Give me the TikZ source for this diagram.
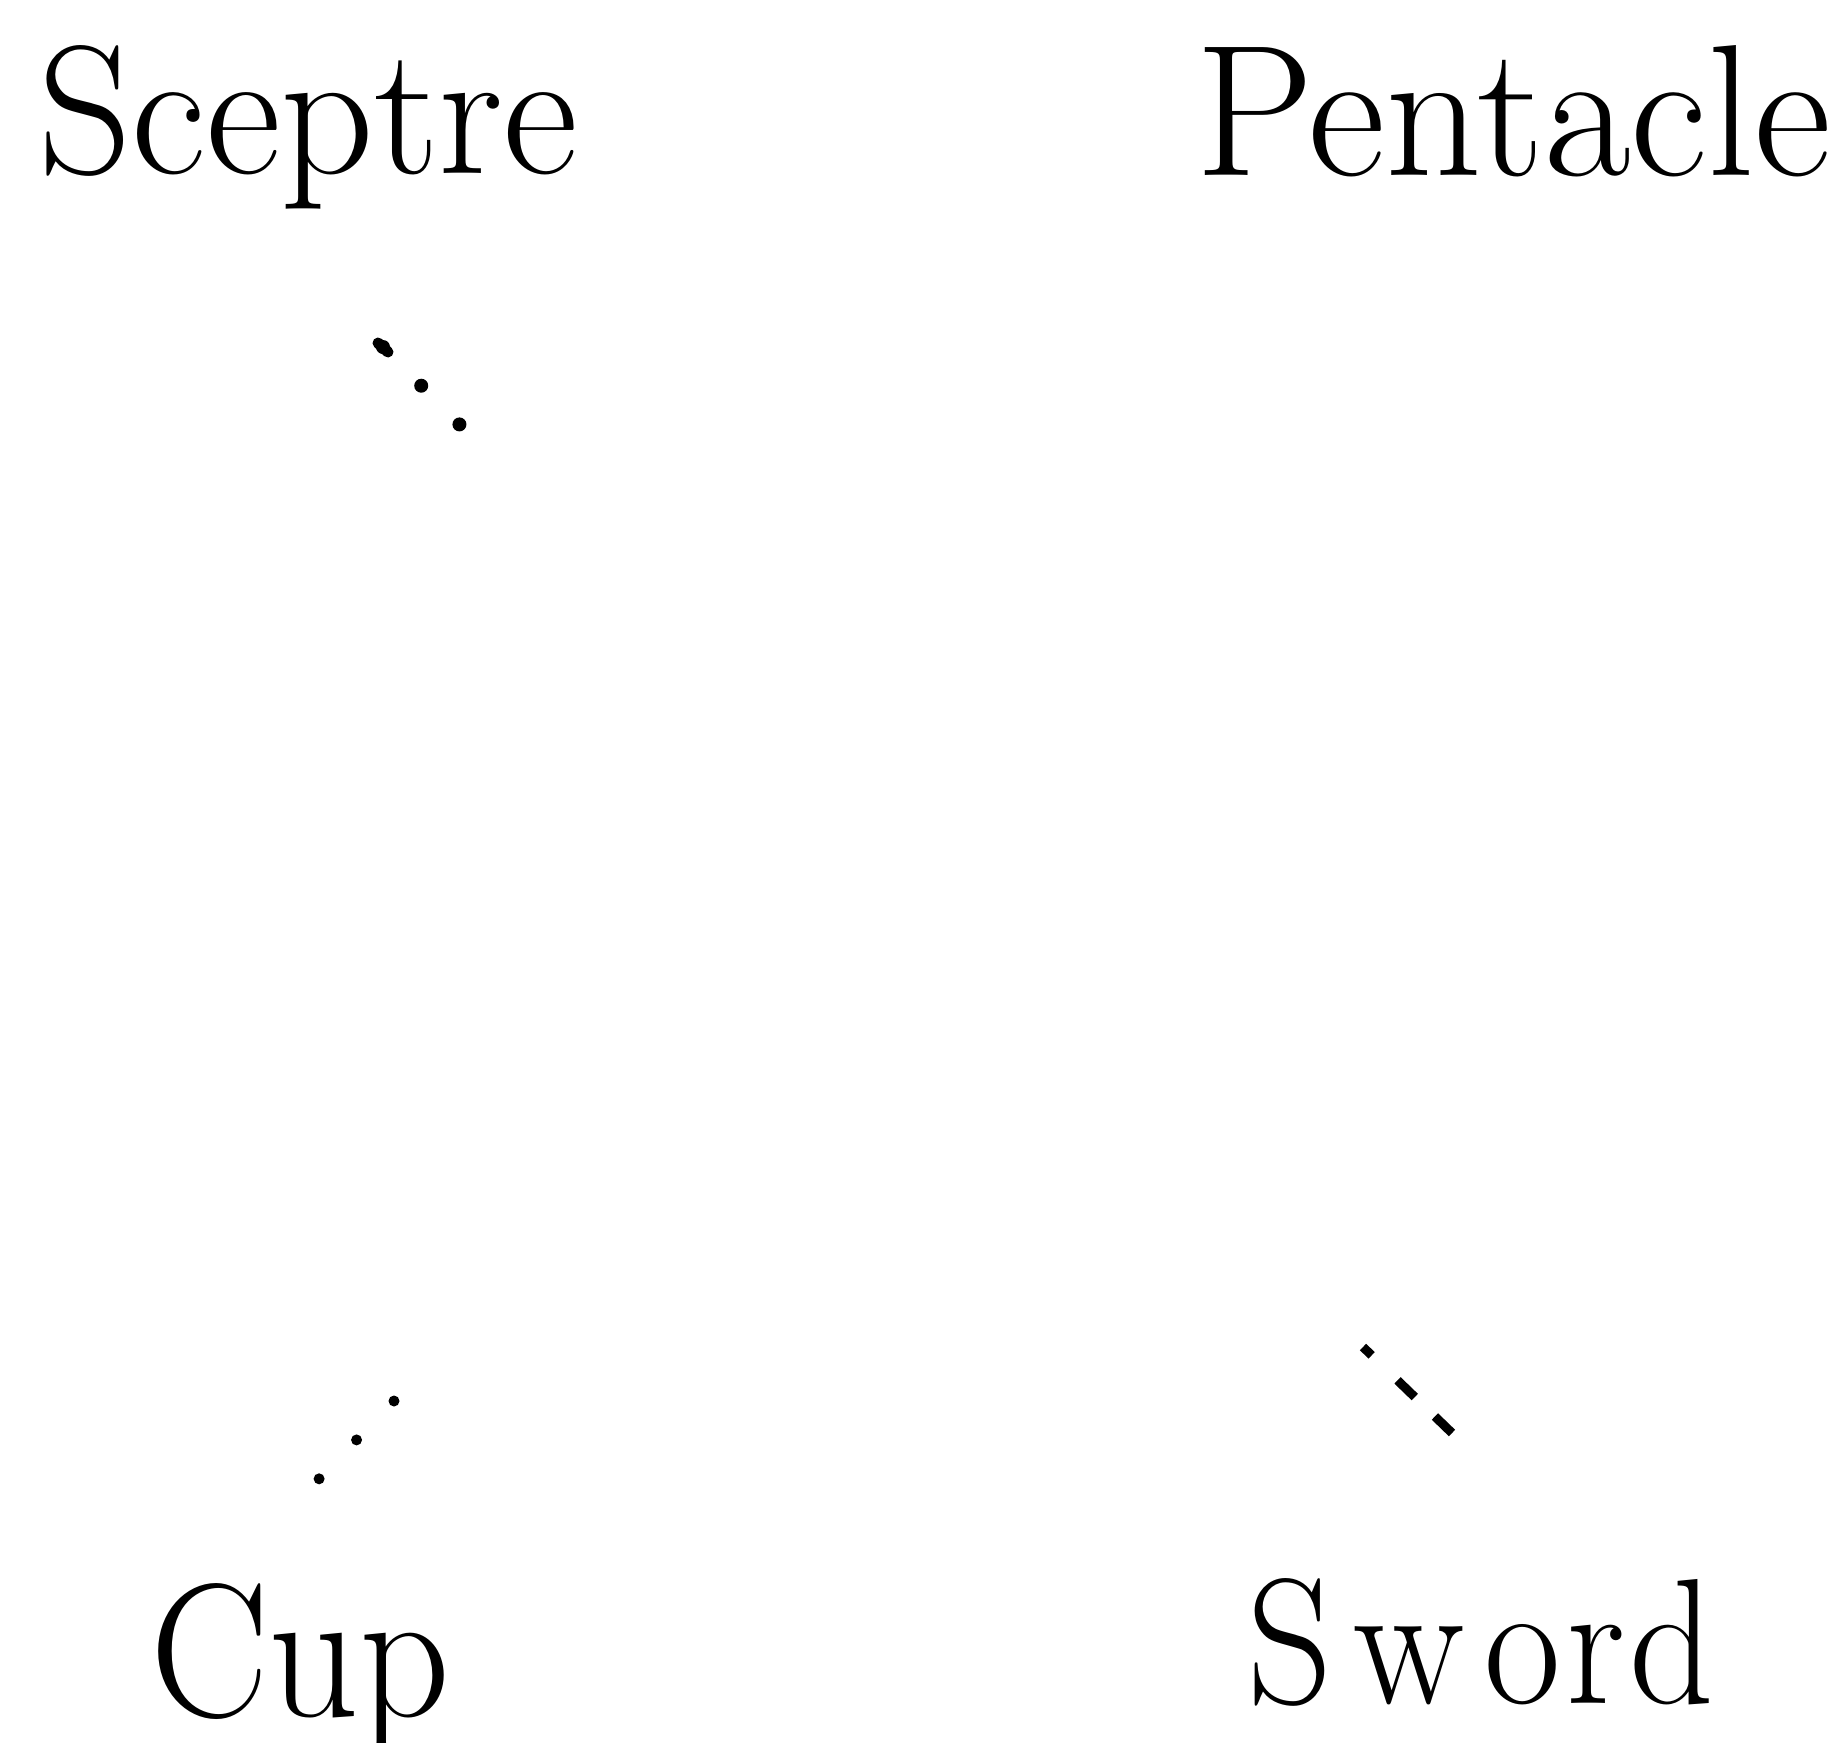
\documentclass[tikz,border=0pt]{standalone}
\usepackage{graphicx}
\begin{document}
\begin{tikzpicture}[x=1pt,y=-1pt,
  lbl/.style={anchor=base west,inner sep=0pt,outer sep=0pt,font=\Huge},
  dotsA/.style={line width=14pt,line cap=round,dash pattern=on 0pt off 54.4pt},
  dotsB/.style={line width=11pt,line cap=round,dash pattern=on 0pt off 54pt},
  dashC/.style={line width=9pt,line cap=butt,dash pattern=on 12pt off 36pt on 24pt off 28pt on 24pt off 100pt}]
\useasboundingbox (0,0) rectangle (1845,1743);
\node[lbl] (sceptre) at (38,173) {\resizebox{540pt}{128pt}{Sceptre}};
\node[lbl] (pentacle) at (1195,175) {\resizebox{636pt}{130pt}{Pentacle}};
\node[lbl] (cup) at (150,1716) {\resizebox{300pt}{133pt}{Cup}};
\node[lbl] (sword) at (1247,1703) {\resizebox{468pt}{125pt}{S\kern0.13em w\kern0.12em o\kern0.03em r\kern0.03em d}};
% dotted fragments
\coordinate (a1) at (383,347);
\coordinate (a2) at (461,426);
\draw[dotsA] (a1) -- (a2);
\draw[line width=11pt,line cap=round] (378,343) -- (388,352);
\coordinate (b1) at (394,1401);
\coordinate (b2) at (317,1481);
\draw[dotsB] (b1) -- (b2);
\coordinate (c1) at (1363,1347);
\coordinate (c2) at (1452,1433);
\draw[dashC] (c1) -- (c2);
\end{tikzpicture}
\end{document}
